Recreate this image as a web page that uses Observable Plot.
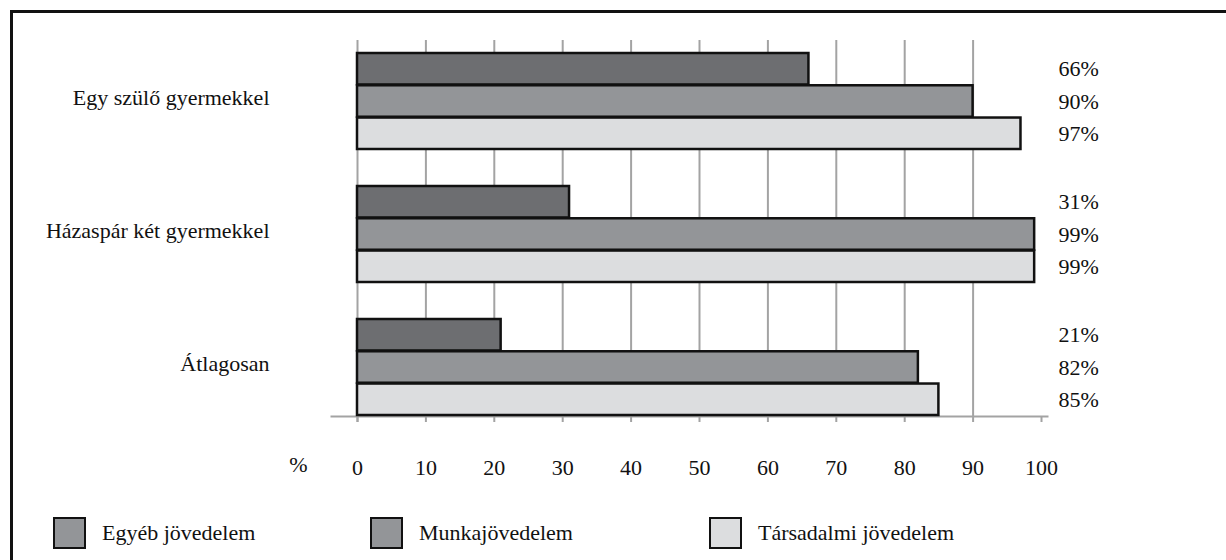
<!DOCTYPE html>
<html>
<head>
<meta charset="utf-8">
<script src="https://cdn.jsdelivr.net/npm/d3@7"></script>
<script src="https://cdn.jsdelivr.net/npm/@observablehq/plot@0.6"></script>
<style>
  html, body { margin: 0; padding: 0; background: #fff; }
  body { width: 1226px; height: 560px; position: relative; overflow: hidden; font-family: "Liberation Serif", "DejaVu Serif", serif; }
  #frame { position: absolute; left: 10px; top: 10px; width: 1400px; height: 700px; border-top: 3px solid #111; border-left: 3px solid #111; box-sizing: border-box; }
  #chart { position: absolute; left: 0; top: 0; }
  .leg { position: absolute; top: 517px; display: flex; align-items: center; font-size: 22px; color: #111; }
  .sw { width: 29px; height: 28px; border: 2.5px solid #111; margin-right: 16px; }
</style>
</head>
<body>
<div id="frame"></div>
<div id="chart"></div>
<div id="legend"></div>
<script>
const categories = ["Egy szülő gyermekkel", "Házaspár két gyermekkel", "Átlagosan"];
const seriesNames = ["Egyéb jövedelem", "Munkajövedelem", "Társadalmi jövedelem"];
const egyeb = [66, 31, 21];
const munka = [90, 99, 82];
const tarsadalmi = [97, 99, 85];
const xTicks = [0, 10, 20, 30, 40, 50, 60, 70, 80, 90, 100];
const gridTicks = [10, 20, 30, 40, 50, 60, 70, 80, 90];

const fills = ["#6d6e71", "#939598", "#dcdddf"];
const legendFills = ["#939598", "#939598", "#dcdddf"];
const seriesValues = [egyeb, munka, tarsadalmi];

const rows = [];
seriesValues.forEach((vals, si) => {
  vals.forEach((v, ci) => rows.push({category: categories[ci], series: seriesNames[si], si, value: v}));
});

const bw = 96.8 / 3;
const font = "Liberation Serif, DejaVu Serif, serif";

const barMarks = seriesNames.map((s, si) =>
  Plot.barX(rows.filter(d => d.si === si), {
    x: "value", y: "category",
    fill: fills[si], stroke: "#111", strokeWidth: 2.5,
    insetTop: si * bw, insetBottom: (2 - si) * bw
  })
);
const labelMarks = seriesNames.map((s, si) =>
  Plot.text(rows.filter(d => d.si === si), {
    y: "category", frameAnchor: "right", dx: 11, dy: (si - 1) * bw,
    text: d => d.value + "%", textAnchor: "start", fill: "#111"
  })
);

const chart = Plot.plot({
  width: 1226, height: 510,
  marginLeft: 331, marginRight: 179, marginTop: 40, marginBottom: 94,
  style: {fontFamily: font, fontSize: "22px", color: "#111", background: "transparent"},
  x: {domain: [0, 100], insetLeft: 26, insetRight: 6, label: null},
  y: {domain: categories, insetTop: 12, insetBottom: 0, paddingInner: 0.276, paddingOuter: 0, label: null},
  marks: [
    Plot.ruleX(gridTicks, {stroke: "#a3a3a3", strokeWidth: 2}),
    Plot.ruleX([0], {stroke: "#a3a3a3", strokeWidth: 2, insetBottom: -6}),
    Plot.frame({anchor: "bottom", stroke: "#a3a3a3", strokeWidth: 2}),
    Plot.axisX({ticks: xTicks, tickSize: 6, color: "#a3a3a3", strokeWidth: 2, tickFormat: () => "", label: null}),
    Plot.axisX({ticks: xTicks, tickSize: 0, tickPadding: 43, color: "#111", fontSize: 22, label: null}),
    Plot.axisY({tickSize: 0, tickPadding: 62, dy: -4, color: "#111", fontSize: 22, label: null}),
    Plot.text(["%"], {frameAnchor: "bottom-left", dx: -33, dy: 55, textAnchor: "middle", fill: "#111"}),
    ...barMarks,
    ...labelMarks
  ]
});
document.getElementById("chart").appendChild(chart);

const legendPos = [53, 370, 709];
const legend = document.getElementById("legend");
seriesNames.forEach((s, i) => {
  const item = document.createElement("div");
  item.className = "leg";
  item.style.left = legendPos[i] + "px";
  const sw = document.createElement("div");
  sw.className = "sw";
  sw.style.background = legendFills[i];
  const t = document.createElement("span");
  t.textContent = s;
  item.appendChild(sw);
  item.appendChild(t);
  legend.appendChild(item);
});
</script>
</body>
</html>
